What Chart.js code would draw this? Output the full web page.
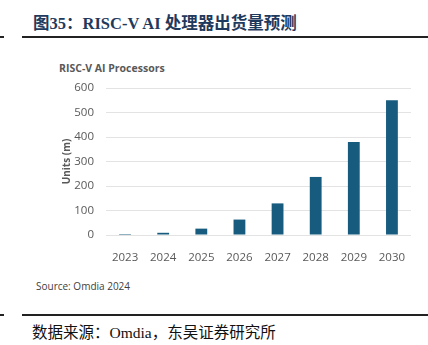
<!DOCTYPE html>
<html>
<head>
<meta charset="utf-8">
<script src="https://cdn.jsdelivr.net/npm/chart.js@4"></script>
<style>
  body { margin: 0; width: 428px; height: 345px; background: #fff; position: relative; overflow: hidden; }
  .abs { position: absolute; white-space: nowrap; }
  #title { left: 33px; top: 10px; font: bold 16.5px "Liberation Serif", "Noto Sans CJK SC", serif; color: #1f3a5c; }
  .rule { position: absolute; height: 1.5px; background: #222; }
  #sub { left: 59px; top: 61px; font: bold 10.5px "Open Sans", sans-serif; color: #595959; }
  #src { left: 36px; top: 279px; font: 10px "Open Sans", sans-serif; color: #404040; }
  #foot { left: 32px; top: 320px; font: 15.5px "Liberation Serif", "Noto Sans CJK SC", serif; color: #111; }
  #wrap { position: absolute; left: 0; top: 55px; width: 428px; height: 210px; }
</style>
</head>
<body>
<div id="title" class="abs">图35：RISC-V AI 处理器出货量预测</div>
<div class="rule" style="left:0;top:36px;width:4px;"></div>
<div class="rule" style="left:22px;top:36px;width:406px;"></div>
<div id="sub" class="abs">RISC-V AI Processors</div>
<div id="wrap"><canvas id="chart"></canvas></div>
<div id="src" class="abs">Source: Omdia 2024</div>
<div class="rule" style="left:0;top:314px;width:4px;"></div>
<div class="rule" style="left:22px;top:314px;width:406px;"></div>
<div id="foot" class="abs">数据来源：Omdia，东吴证券研究所</div>

<script>
// years and forecast shipments (millions of units)
const years = ['2023', '2024', '2025', '2026', '2027', '2028', '2029', '2030'];
const units = [4, 9, 26, 63, 129, 237, 380, 550];
const yTicks = [0, 100, 200, 300, 400, 500, 600];

const ctx = document.getElementById('chart').getContext('2d');
new Chart(ctx, {
    type: 'bar',
    data: {
        labels: years,
        datasets: [
            {
                label: 'Units (m)',
                data: units,
                backgroundColor: '#175c7e',
                barPercentage: 0.31,
                categoryPercentage: 1
            }
        ]
    },
    options: {
        responsive: true,
        maintainAspectRatio: false,
        animation: false,
        layout: {
            padding: { left: 56, right: 17, top: 33, bottom: 0 }
        },
        plugins: {
            legend: { display: false },
            tooltip: { enabled: false }
        },
        scales: {
            x: {
                grid: { display: false },
                border: { display: false },
                ticks: {
                    color: '#595959',
                    font: { family: 'Open Sans', size: 11.5 },
                    padding: 8
                },
                afterFit: function (scale) { scale.height = 30; }
            },
            y: {
                min: 0,
                max: 600,
                afterBuildTicks: function (scale) {
                    scale.ticks = yTicks.map(v => ({ value: v }));
                },
                grid: { color: '#e3e3e3', drawTicks: false },
                border: { display: false },
                ticks: {
                    color: '#595959',
                    font: { family: 'Open Sans', size: 11.5 },
                    padding: 12
                },
                title: {
                    display: true,
                    text: 'Units (m)',
                    color: '#595959',
                    font: { family: 'Open Sans', size: 10, weight: 'bold' },
                    padding: { top: 5, bottom: 0 }
                },
                afterFit: function (scale) { scale.width = 106 - 56; }
            }
        }
    }
});
</script>
</body>
</html>
